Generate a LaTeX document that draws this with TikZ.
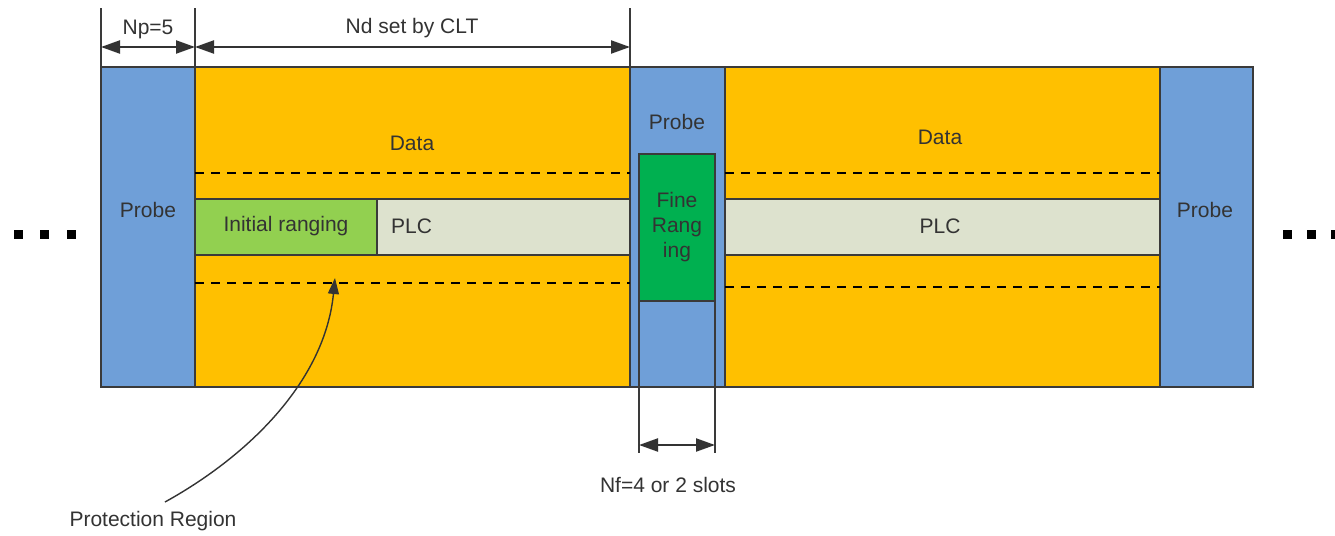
\documentclass[tikz,border=0pt]{standalone}
\usepackage{fontspec}
\setmainfont{Liberation Sans}
\usetikzlibrary{arrows.meta, positioning, calc}
\definecolor{probeblue}{HTML}{6F9FD8}
\definecolor{dataorange}{HTML}{FFC000}
\definecolor{plcgray}{HTML}{DDE2CE}
\definecolor{initgreen}{HTML}{92D050}
\definecolor{finegreen}{HTML}{00B050}
\definecolor{edgegray}{HTML}{3A3A3A}
\tikzset{
  slotbox/.style={draw=edgegray, line width=0.7pt},
  dimline/.style={draw=edgegray, line width=0.7pt},
  dimarrow/.style={{Triangle[length=9.5pt,width=6.5pt]}-{Triangle[length=9.5pt,width=6.5pt]}, line width=1.1pt, black!80},
  guardline/.style={line width=0.7pt, dash pattern=on 4.5pt off 3.5pt},
  dotsq/.style={fill=black, minimum size=4.5pt, inner sep=0pt}
}

\begin{document}
\begin{tikzpicture}[x=0.5pt, y=-0.5pt, every node/.style={font=\fontsize{10.5}{12.5}\selectfont, text=black!80}]
\useasboundingbox (0,0) rectangle (1335,536);
\fill[white] (0,0) rectangle (1335,536);

\filldraw[slotbox, fill=probeblue] (101,67) rectangle (195,387);
\filldraw[slotbox, fill=dataorange] (195,67) rectangle (630,387);
\filldraw[slotbox, fill=probeblue] (630,67) rectangle (725,387);
\filldraw[slotbox, fill=dataorange] (725,67) rectangle (1160,387);
\filldraw[slotbox, fill=probeblue] (1160,67) rectangle (1253,387);

\filldraw[slotbox, fill=initgreen] (195,199) rectangle (377,255);
\filldraw[slotbox, fill=plcgray] (377,199) rectangle (630,255);
\filldraw[slotbox, fill=plcgray] (725,199) rectangle (1160,255);
\filldraw[slotbox, fill=finegreen] (639,154) rectangle (715,301);

\draw[guardline] (195,173) -- (630,173);
\draw[guardline] (195,283) -- (630,283);
\draw[guardline] (725,173) -- (1160,173);
\draw[guardline] (725,287) -- (1160,287);

\node (data1) at (412,143) {Data};
\node (data2) at (940,137) {Data};
\node (probe1) at (148,210) {Probe};
\node (probe2) at (677,122) {Probe};
\node (probe3) at (1205,210) {Probe};
\node (init) at (286,226) {Initial ranging};
\node[anchor=west] (plc1) at (384,226) {PLC};
\node (plc2) at (940,226) {PLC};
\node[align=center] (fine) at (677,227) {Fine\\Rang\\ing};

\coordinate (pA) at (101,8);
\coordinate (pB) at (195,8);
\coordinate (pC) at (630,8);
\draw[dimline] (pA) -- (101,67);
\draw[dimline] (pB) -- (195,67);
\draw[dimline] (pC) -- (630,67);
\draw[dimarrow] ($(pA)+(0,39)$) -- ($(pB)+(0,39)$);
\draw[dimarrow] ($(pB)+(0,39)$) -- ($(pC)+(0,39)$);
\node (np) at (148,29) {Np=5};
\node (nd) at (412,28) {Nd set by CLT};

\coordinate (fA) at (639,453);
\coordinate (fB) at (715,453);
\draw[dimline] (639,301) -- (fA);
\draw[dimline] (715,301) -- (fB);
\draw[dimarrow] ($(fA)+(0,-8)$) -- ($(fB)+(0,-8)$);
\node (nf) at (668,485) {Nf=4 or 2 slots};

\node (prot) at (153,521) {Protection Region};
\coordinate (protstart) at (165,502);
\coordinate (prottip) at (335,278);
\draw[-{Triangle[length=8pt,width=5.5pt]}, line width=0.7pt, black!80] (protstart) .. controls (250,455) and (325,380) .. (prottip);

\foreach \x in {18,44,71,1287,1311,1335}
  \node[dotsq] (dot\x) at (\x,234) {};
\end{tikzpicture}
\end{document}
